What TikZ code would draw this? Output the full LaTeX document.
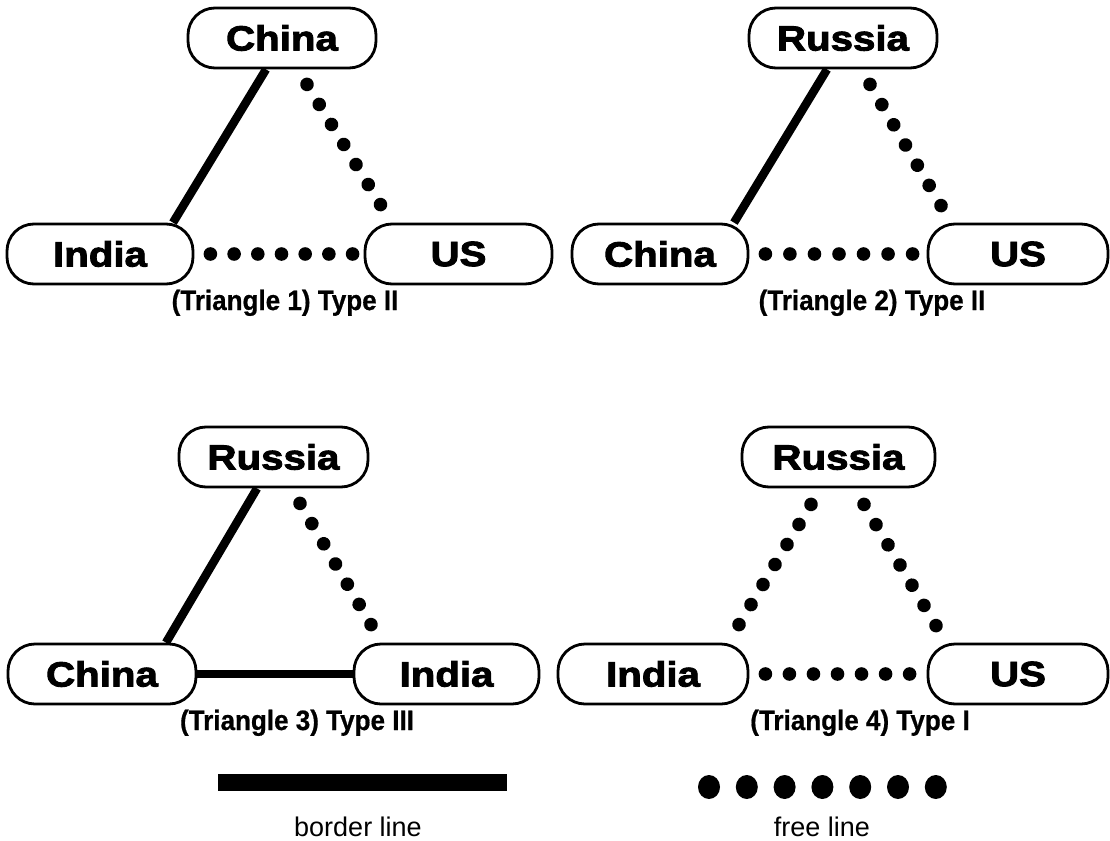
\documentclass[tikz,border=0pt]{standalone}
\usepackage{fontspec}
\setmainfont{Liberation Sans}
\newfontfamily\labelfont{Liberation Sans}[UprightFont={* Bold}, FakeStretch=1.15, FakeBold=2.6]
\newfontfamily\captionfont{Liberation Sans}[UprightFont={* Bold}, FakeStretch=0.93, FakeBold=0.6]
\usetikzlibrary{calc,decorations.markings}

\tikzset{
  country/.style={draw, line width=2.8pt, rounded corners=27pt, minimum height=60pt,
    inner sep=0pt, fill=white, font=\labelfont\fontsize{35}{40}\selectfont},
  borderline/.style={line width=8.5pt},
  freeline/.style={postaction={decorate},
    decoration={markings, mark=between positions 0 and 1 step 0.16665 with {\fill circle (6.8pt);}}},
  caption/.style={anchor=base, inner sep=0pt, font=\captionfont\fontsize{28}{32}\selectfont},
  legendtext/.style={anchor=base, inner sep=0pt, font=\fontsize{27}{32}\selectfont}
}

\begin{document}
\begin{tikzpicture}[x=1pt,y=-1pt]
\useasboundingbox[fill=white] (0,0) rectangle (1110,840);

% ---------- Triangle 1 ----------
\node[country, minimum width=188pt] (t1top) at (282,38)  {China};
\node[country, minimum width=186pt] (t1l)   at (100,254) {India};
\node[country, minimum width=187pt] (t1r)   at (458.5,254) {US};
\draw[borderline] ($(t1top.south)+(-16,0)$) -- ($(t1l.north)+(73,0)$);
\path[freeline] ($(t1top.south)+(25,15)$) -- ($(t1r.north)+(-78,-18)$);
\path[freeline] ($(t1l.east)+(16,0)$) -- ($(t1r.west)+(-11,0)$);
\node[caption] (cap1) at (285,310) {(Triangle 1) Type II};

% ---------- Triangle 2 ----------
\node[country, minimum width=188pt] (t2top) at (843,38)  {Russia};
\node[country, minimum width=176pt] (t2l)   at (660,254) {China};
\node[country, minimum width=180pt] (t2r)   at (1018,254) {US};
\draw[borderline] ($(t2top.south)+(-16,0)$) -- ($(t2l.north)+(74,0)$);
\path[freeline] ($(t2top.south)+(27,15)$) -- ($(t2r.north)+(-77,-17)$);
\path[freeline] ($(t2l.east)+(16,0)$) -- ($(t2r.west)+(-14,0)$);
\node[caption] (cap2) at (872,310) {(Triangle 2) Type II};

% ---------- Triangle 3 ----------
\node[country, minimum width=189pt] (t3top) at (273.5,457) {Russia};
\node[country, minimum width=188pt] (t3l)   at (102,674)   {China};
\node[country, minimum width=185pt] (t3r)   at (446.5,674) {India};
\draw[borderline] ($(t3top.south)+(-16.5,0)$) -- ($(t3l.north)+(64,0)$);
\path[freeline] ($(t3top.south)+(26.5,15)$) -- ($(t3r.north)+(-75.5,-18)$);
\draw[borderline] (t3l.east) -- (t3r.west);
\node[caption] (cap3) at (297,730) {(Triangle 3) Type III};

% ---------- Triangle 4 ----------
\node[country, minimum width=193pt] (t4top) at (838.5,457) {Russia};
\node[country, minimum width=190pt] (t4l)   at (653,674)   {India};
\node[country, minimum width=180pt] (t4r)   at (1018,674)  {US};
\path[freeline] ($(t4top.south)+(-27.5,16)$) -- ($(t4l.north)+(86,-18)$);
\path[freeline] ($(t4top.south)+(25.5,16)$) -- ($(t4r.north)+(-82,-17)$);
\path[freeline] ($(t4l.east)+(16,0)$) -- ($(t4r.west)+(-17,0)$);
\node[caption] (cap4) at (860,730) {(Triangle 4) Type I};

% ---------- Legend ----------
\fill (218,774) rectangle (507,791);
\node[legendtext] (lgborder) at (358,836) {border line};
\foreach \i in {0,...,6}
  \fill (709+37.8*\i,787) ellipse (11pt and 12pt);
\node[legendtext] (lgfree) at (822,836) {free line};
\end{tikzpicture}
\end{document}
